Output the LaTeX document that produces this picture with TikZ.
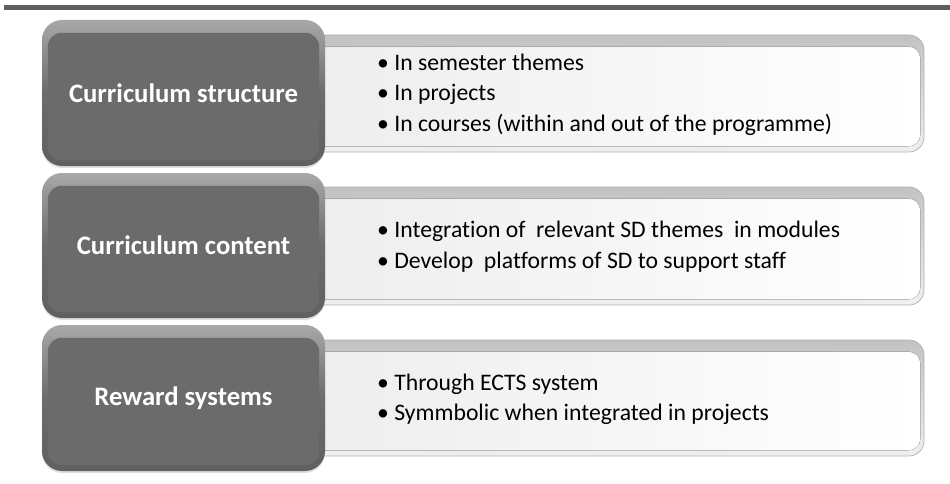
\documentclass[tikz,border=0pt]{standalone}
\usepackage{fontspec}
\setmainfont[Ligatures=NoCommon]{Carlito}
\usetikzlibrary{shadows}
\definecolor{barGray}{HTML}{5E5E5E}
\definecolor{darkTop}{HTML}{A8A8A8}
\definecolor{darkMid}{HTML}{6C6C6C}
\definecolor{darkBot}{HTML}{606060}
\definecolor{darkFace}{HTML}{6B6B6B}
\definecolor{lightTop}{HTML}{C2C2C2}
\definecolor{lightBot}{HTML}{F0F0F0}
\definecolor{lightEdge}{HTML}{B0B0B0}
\definecolor{faceLeft}{HTML}{EDEDED}
\definecolor{faceRight}{HTML}{FFFFFF}
\tikzset{
  darkbox/.style={rounded corners=20pt, minimum width=283pt, minimum height=146pt,
    inner sep=0pt, top color=darkTop, bottom color=darkBot, middle color=darkMid,
    draw=none, drop shadow={opacity=0.25, shadow xshift=0pt, shadow yshift=-2pt}},
  lightbox/.style={rounded corners=15pt, minimum width=624pt, minimum height=117pt,
    inner sep=0pt, top color=lightTop, bottom color=lightBot, draw=lightEdge, line width=0.7pt},
  darkface/.style={fill=darkFace, rounded corners=14pt},
  lightface/.style={left color=faceLeft, right color=faceRight, rounded corners=12pt},
  titletext/.style={text=white, font=\fontsize{26.7}{32}\selectfont\bfseries},
  bullettext/.style={anchor=west, align=left, inner sep=0pt,
    font=\fontsize{23.7}{30.5}\selectfont}
}
\begin{document}
\begin{tikzpicture}[x=1pt,y=1pt]
\useasboundingbox (0,0) rectangle (950,-484);
% top bar
\fill[barGray] (4,-5) rectangle (950,-10);

% row 1
\node[lightbox] (l1) at (612,-93.5) {};
\fill[lightface] ([xshift=0pt,yshift=-12pt]l1.north west) rectangle ([xshift=-4pt,yshift=6pt]l1.south east);
\node[darkbox] (d1) at (183.5,-93) {};
\fill[darkface] ([xshift=6pt,yshift=-13pt]d1.north west) rectangle ([xshift=-6pt,yshift=6pt]d1.south east);
\node[titletext] (t1) at (d1.center) {Curriculum structure};
\node[bullettext] (b1) at (377,-94.5) {• In semester themes\\• In projects\\• In courses (within and out of the programme)};

% row 2
\node[lightbox, minimum height=118pt] (l2) at (612,-246) {};
\fill[lightface] ([xshift=0pt,yshift=-12pt]l2.north west) rectangle ([xshift=-4pt,yshift=6pt]l2.south east);
\node[darkbox, minimum height=145pt] (d2) at (183.5,-245.5) {};
\fill[darkface] ([xshift=6pt,yshift=-13pt]d2.north west) rectangle ([xshift=-6pt,yshift=6pt]d2.south east);
\node[titletext] (t2) at (d2.center) {Curriculum content};
\node[bullettext] (b2) at (377,-246.5) {• Integration of~ relevant SD themes~ in modules\\• Develop~ platforms of SD to support staff};

% row 3
\node[lightbox, minimum height=116pt] (l3) at (612,-398) {};
\fill[lightface] ([xshift=0pt,yshift=-12pt]l3.north west) rectangle ([xshift=-4pt,yshift=6pt]l3.south east);
\node[darkbox] (d3) at (183.5,-398) {};
\fill[darkface] ([xshift=6pt,yshift=-13pt]d3.north west) rectangle ([xshift=-6pt,yshift=6pt]d3.south east);
\node[titletext] (t3) at (d3.center) {Reward systems};
\node[bullettext] (b3) at (377,-399.5) {• Through ECTS system\\• Symmbolic when integrated in projects};
\end{tikzpicture}
\end{document}
